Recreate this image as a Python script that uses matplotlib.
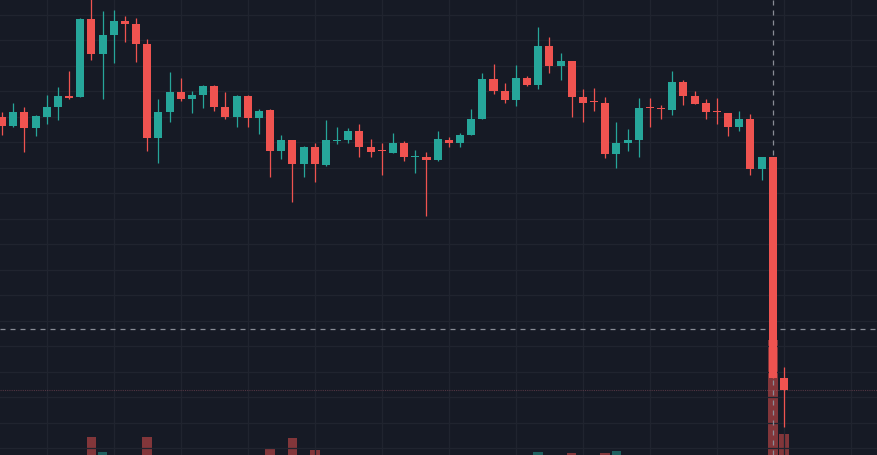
import numpy as np
import matplotlib
matplotlib.use('Agg')
import matplotlib.pyplot as plt

# candle data (arbitrary price units)
opens = [338, 329, 343, 327, 338, 348, 359, 358, 436, 401, 420, 434, 431, 411, 317, 343,
         363, 356, 360, 369, 348, 338, 359, 337, 345, 304, 315, 291, 308, 290, 314, 315,
         324, 308, 304, 302, 312, 298, 298, 295, 315, 312, 320, 336, 376, 364, 355, 377,
         370, 409, 389, 394, 358, 353, 352, 301, 312, 315, 347, 346, 345, 373, 359, 352,
         343, 342, 328, 336, 286, 298, 77]
highs = [343, 352, 348, 340, 360, 368, 384, 437, 457, 444, 445, 439, 437, 416, 356, 383,
         377, 364, 370, 370, 363, 360, 360, 346, 346, 320, 315, 309, 312, 335, 328, 327,
         331, 316, 312, 322, 314, 305, 303, 324, 318, 322, 346, 382, 391, 372, 390, 379,
         428, 418, 402, 394, 366, 367, 358, 333, 326, 357, 357, 350, 384, 375, 364, 356,
         357, 342, 344, 341, 298, 298, 88]
lows = [320, 328, 303, 319, 331, 335, 356, 358, 395, 356, 392, 413, 393, 304, 292, 333,
        354, 342, 347, 344, 336, 328, 328, 321, 278, 296, 253, 278, 273, 289, 311, 312,
        298, 298, 280, 302, 294, 282, 239, 294, 308, 308, 320, 336, 361, 352, 349, 369,
        366, 382, 375, 338, 333, 344, 297, 287, 304, 298, 328, 336, 340, 350, 351, 336,
        331, 319, 324, 280, 275, 77, 28]
closes = [329, 343, 327, 339, 348, 359, 357, 436, 401, 420, 434, 431, 411, 317, 343, 363,
          356, 360, 369, 348, 338, 359, 337, 344, 304, 315, 291, 308, 291, 315, 315, 324,
          308, 303, 303, 312, 298, 299, 295, 316, 312, 320, 336, 376, 364, 355, 377, 370,
          409, 389, 394, 358, 352, 352, 301, 312, 315, 347, 346, 345, 373, 359, 351, 343,
          342, 328, 336, 286, 298, 77, 65]
volumes = [62, 58, 75, 55, 60, 66, 70, 96, 118, 103, 80, 64, 78, 118, 92, 85,
           60, 50, 55, 72, 66, 70, 74, 52, 106, 68, 117, 80, 105, 86, 48, 50,
           70, 58, 62, 60, 64, 55, 90, 82, 45, 52, 70, 98, 85, 66, 88, 54,
           103, 90, 62, 102, 76, 58, 102, 104, 60, 92, 55, 50, 88, 72, 60, 64,
           58, 74, 62, 98, 80, 215, 121]

cross_idx = 69
cross_price = 126

bg = '#161a25'
up = '#26a69a'
down = '#ef5350'

o = np.array(opens)
h = np.array(highs)
l = np.array(lows)
c = np.array(closes)
v = np.array(volumes)
x = np.arange(len(o))
cols = [up if cc >= oo else down for oo, cc in zip(o, c)]

fig = plt.figure(figsize=(8.77, 4.55), dpi=100, facecolor=bg)

# volume underneath
vax = fig.add_axes([0, 0, 1, 1])
vax.patch.set_visible(False)
vax.bar(x, v, width=0.85, color=cols, alpha=0.5, linewidth=0)
vax.set_xlim(-0.18, 78.33)
vax.set_ylim(100, 555)
vax.axis('off')

ax = fig.add_axes([0, 0, 1, 1])
ax.patch.set_visible(False)
ax.set_xlim(-0.18, 78.33)
ax.set_ylim(0, 455)

for xv in np.arange(4, 79, 6):
    ax.axvline(xv, color='#20242f', lw=0.9, zorder=0)
for yv in np.arange(7, 456, 25.5):
    ax.axhline(yv, color='#20242f', lw=0.9, zorder=0)

# crosshair + last price line
ax.axvline(cross_idx, color='#8a8d96', lw=0.9, linestyle=(0, (4, 4)), zorder=1)
ax.axhline(cross_price, color='#8a8d96', lw=0.9, linestyle=(0, (4, 4)), zorder=1)
ax.axhline(c[-1], color='#b06070', alpha=0.4, lw=0.8, linestyle=(0, (1, 1)), zorder=1)

ax.vlines(x, l, h, colors=cols, lw=0.9, zorder=2)
body = np.where(np.abs(c - o) < 1.5, 1.5, c - o)
ax.bar(x, body, bottom=o, width=0.72, color=cols, linewidth=0, zorder=3)

for s in ax.spines.values():
    s.set_visible(False)
ax.set_xticks([])
ax.set_yticks([])

fig.savefig('out.png', dpi=100, facecolor=bg)
